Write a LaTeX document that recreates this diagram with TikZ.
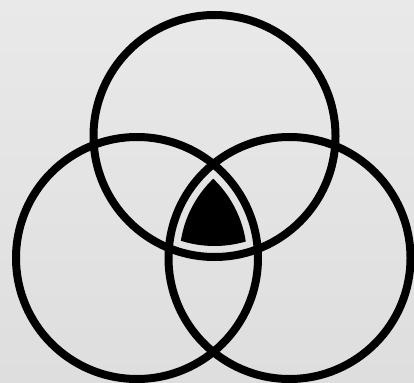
\documentclass[tikz,border=0pt]{standalone}
\usepackage{tikz}
\usetikzlibrary{calc}
\definecolor{paperhi}{RGB}{233,233,233}
\definecolor{paperlo}{RGB}{222,222,222}

\begin{document}
\begin{tikzpicture}[x=1pt,y=-1pt]
  \tikzset{ring/.style={line width=8pt}}
  \useasboundingbox (0,0) rectangle (414,382);
  \clip (0,0) rectangle (414,382);
  \shade[top color=paperhi, bottom color=paperlo] (0,0) rectangle (414,382);
  \coordinate (top) at (214.5,136);
  \coordinate (left) at (137,258);
  \coordinate (right) at (289.5,258);
  % inner piece
  \begin{scope}
    \clip (top) circle (110pt);
    \clip (left) circle (110pt);
    \fill (right) circle (110pt);
  \end{scope}
  \draw[ring] (top) circle (121pt);
  \draw[ring] (left) circle (121pt);
  \draw[ring] (right) circle (121pt);
\end{tikzpicture}
\end{document}
